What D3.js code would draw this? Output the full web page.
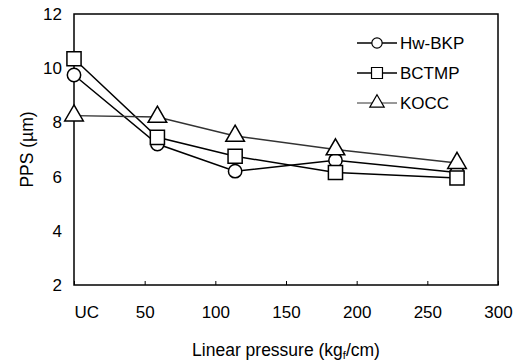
<!DOCTYPE html>
<html>
<head>
<meta charset="utf-8">
<style>
  body { margin: 0; background: #fff; }
  svg text { font-family: "Liberation Sans", Arial, sans-serif; fill: #000; }
  .axis path, .axis line { stroke: #000; }
</style>
<script src="https://cdn.jsdelivr.net/npm/d3@7"></script>
</head>
<body>
<script>
var pressure = [0, 59, 114, 185, 271];
var hwBkp = [9.75, 7.2, 6.2, 6.6, 6.15];
var bctmp = [10.35, 7.45, 6.75, 6.15, 5.95];
var kocc = [8.25, 8.2, 7.5, 7.0, 6.5];
var seriesNames = ["Hw-BKP", "BCTMP", "KOCC"];
var xTicks = [0, 50, 100, 150, 200, 250, 300];
var xTickLabels = ["UC", "50", "100", "150", "200", "250", "300"];
var yTicks = [2, 4, 6, 8, 10, 12];

var width = 524, height = 362;
var margin = {top: 14, right: 26, bottom: 77, left: 74};
var w = width - margin.left - margin.right,
    h = height - margin.top - margin.bottom;

var svg = d3.select("body").append("svg")
    .attr("width", width)
    .attr("height", height);
var g = svg.append("g")
    .attr("transform", "translate(" + margin.left + "," + margin.top + ")");

var x = d3.scaleLinear().domain([0, 300]).range([0, w]);
var y = d3.scaleLinear().domain([2, 12]).range([h, 0]);

// frame
g.append("rect")
    .attr("width", w).attr("height", h)
    .attr("fill", "none").attr("stroke", "#000").attr("stroke-width", 1.5);

var xAxis = g.append("g")
    .attr("class", "axis")
    .attr("transform", "translate(0," + h + ")")
    .call(d3.axisBottom(x).tickValues(xTicks).tickSize(-4).tickPadding(21)
      .tickFormat(function(d, i) { return xTickLabels[i]; }));
xAxis.select(".domain").remove();
xAxis.selectAll("text").style("font-size", "17px");
xAxis.selectAll(".tick").filter(function(d) { return d === 0; })
    .select("text").attr("text-anchor", "start");

var yAxis = g.append("g")
    .attr("class", "axis")
    .call(d3.axisLeft(y).tickValues(yTicks).tickSize(0).tickPadding(12));
yAxis.select(".domain").remove();
yAxis.selectAll("text").style("font-size", "17px");

svg.append("text")
    .attr("x", margin.left + x(150)).attr("y", 356)
    .attr("text-anchor", "middle").style("font-size", "17.5px")
    .html('Linear pressure (kg<tspan font-size="11" dy="3">f</tspan><tspan dy="-3">/cm)</tspan>');

svg.append("text")
    .attr("transform", "translate(33," + (margin.top + h / 2) + ") rotate(-90)")
    .attr("text-anchor", "middle").style("font-size", "17.5px")
    .text("PPS (\u00b5m)");

var series = [hwBkp, bctmp, kocc];
var symbols = [d3.symbolCircle, d3.symbolSquare, d3.symbolTriangle];
var symSizes = [140, 200, 150];
var lineColors = ["#000", "#000", "#333"];

var line = d3.line()
    .x(function(d, i) { return x(pressure[i]); })
    .y(function(d) { return y(d); });

series.forEach(function(vals, s) {
  g.append("path")
      .datum(vals)
      .attr("d", line)
      .attr("fill", "none")
      .attr("stroke", lineColors[s])
      .attr("stroke-width", 1.5);
});

series.forEach(function(vals, s) {
  g.selectAll(".m" + s)
      .data(vals)
      .enter().append("path")
      .attr("class", "m" + s)
      .attr("transform", function(d, i) {
        return "translate(" + x(pressure[i]) + "," + y(d) + ")";
      })
      .attr("d", d3.symbol().type(symbols[s]).size(symSizes[s]))
      .attr("fill", "#fff")
      .attr("stroke", "#000")
      .attr("stroke-width", 1.5);
});

// legend
var legend = g.append("g").attr("transform", "translate(283,29)");
seriesNames.forEach(function(name, s) {
  var row = legend.append("g").attr("transform", "translate(0," + (s * 30) + ")");
  row.append("line")
      .attr("x1", 0).attr("x2", 40)
      .attr("stroke", lineColors[s]).attr("stroke-width", s === 2 ? 1 : 1.5);
  row.append("path")
      .attr("transform", "translate(20,0)")
      .attr("d", d3.symbol().type(symbols[s]).size(symSizes[s] * 0.6))
      .attr("fill", "#fff").attr("stroke", "#000").attr("stroke-width", 1.2);
  row.append("text")
      .attr("x", 43).attr("dy", "0.35em")
      .style("font-size", "17px")
      .text(name);
});
</script>
</body>
</html>
